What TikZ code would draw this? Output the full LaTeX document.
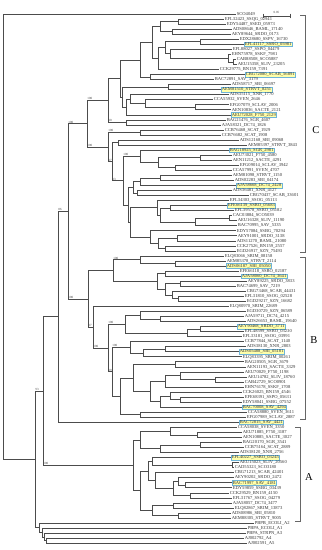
\documentclass[tikz,border=0pt]{standalone}
\usepackage{fontspec}
\setmainfont{Liberation Serif}
\usepackage{tikz}
\usetikzlibrary{calc}
\definecolor{hlfill}{RGB}{255,255,170}
\definecolor{hlline}{RGB}{110,180,215}

% inner node of the tree: name, x, first child, last child
\newcommand{\junc}[4]{%
  \path let \p1=($(#3)!.5!(#4)$) in (#2*0.5mm,\y1) coordinate (#1);
  \draw[br] (#1) |- (#3) (#1) |- (#4);}

\begin{document}
\begin{tikzpicture}[x=0.5mm, y=-0.5mm,
  leaf/.style={anchor=west, inner xsep=1pt, inner ysep=0.6pt, text height=4.6pt, text depth=0.9pt,
    font=\fontsize{6.5}{7}\selectfont, text=black!80},
  hl/.style={leaf, draw=hlline, fill=hlfill, line width=0.5pt},
  br/.style={draw=black!70, line width=0.8pt},
  bs/.style={anchor=south west, inner sep=0.4pt, font=\fontsize{4.5}{5}\selectfont, text=black!75},
  brk/.style={draw=black!60, line width=0.6pt},
  clade/.style={font=\fontsize{15}{16}\selectfont},
]
\useasboundingbox (0,0) rectangle (321,550);

\foreach \tx/\lab/\st [count=\i from 0] in {
  236/SCO4049/leaf, 224/EFL32423\_SSQG\_02941/leaf, 226/EDY54487\_SSED\_05973/leaf,
  232/ADS08646\_BAML\_17140/leaf, 231/AEY89644\_SRDO\_0173/leaf, 239/EDX28680\_SSPV\_16730/leaf,
  244/EFL41117\_SSRO\_05981/hl, 232/EFL88027\_SSPO\_04479/leaf, 231/EHN75978\_SSKF\_7981/leaf,
  236/CAB88508\_SCO5887/leaf, 237/AEU15358\_SLIV\_23205/leaf, 219/CCK29775\_BN159\_7391/leaf,
  245/CBG72080\_SCAB\_56891/hl, 214/BAC72891\_SAV\_3179/leaf, 231/ADS58717\_SBI\_06697/leaf,
  221/AEM81510\_STRVT\_8251/hl, 229/ADS35115\_XNR\_1770/leaf, 213/CCA55932\_SVEN\_2646/leaf,
  229/EFG07079\_SCLAV\_2006/leaf, 231/AEN10836\_SACTE\_2121/leaf, 231/AEU72028\_F750\_2129/hl,
  226/BAG21476\_SGR\_4607/leaf, 221/AJA58321\_DC74\_1826/leaf, 224/CCB76468\_SCAT\_1929/leaf,
  221/CCB76682\_SCAT\_1908/leaf, 239/ADS12168\_SBI\_09068/leaf, 247/AEM85397\_STRVT\_3843/leaf,
  229/BAG18925\_SGR\_2981/hl, 232/AEU73021\_F750\_4580/leaf, 232/AEN11212\_SACTE\_4291/leaf,
  239/EFG09014\_SCLAV\_3942/leaf, 232/CCA57991\_SVEN\_4707/leaf, 232/AEM81098\_STRVT\_1150/leaf,
  234/ADS02283\_SBI\_04174/leaf, 236/AJA58668\_DC74\_2428/hl, 232/ADS36481\_XNR\_4127/leaf,
  249/CBG70437\_SCAB\_33601/leaf, 229/EFL34303\_SSOG\_05113/leaf, 227/EFE66139\_SSRO\_05683/hl,
  234/EFL39578\_SSRO\_05182/leaf, 232/CAC03884\_SCO5039/leaf, 237/AEU16328\_SLIV\_11190/leaf,
  237/BAC70995\_SAV\_5335/leaf, 236/EDY57084\_SSBG\_70294/leaf, 237/AEY91001\_SRDO\_3138/leaf,
  236/ADS11270\_BAML\_21080/leaf, 236/CCK27526\_BN159\_2557/leaf, 236/EGD26917\_SZN\_75493/leaf,
  224/ELQ83066\_SRIM\_08158/leaf, 226/AEM85378\_STRVT\_2114/leaf, 226/ADS06187\_SBI\_05050/hl,
  239/EFE66118\_SSRO\_02187/leaf, 241/AJA58060\_DC74\_3641/hl, 247/AEY89225\_SRDO\_3833/leaf,
  236/BAC74699\_SAV\_7219/leaf, 246/CBG73468\_SCAB\_44431/leaf, 244/EFL31810\_SSOG\_02528/leaf,
  246/EGD29217\_SZN\_16682/leaf, 229/ELQ80970\_SRIM\_22689/leaf, 246/EGD30729\_SZN\_06589/leaf,
  244/AJA59711\_DC74\_4215/leaf, 246/ADS26653\_BAML\_19640/leaf, 237/AEY90468\_SRDO\_3711/hl,
  244/EFL48599\_SSRO\_03230/leaf, 242/EFL33181\_SSOG\_03991/leaf, 244/CCB77844\_SCAT\_1140/leaf,
  246/ADS38130\_XNR\_2803/leaf, 239/ADS05488\_SBI\_05181/hl, 242/ELQ83395\_SRIM\_00261/leaf,
  244/BAG20505\_SGR\_3679/leaf, 246/AEN11193\_SACTE\_3329/leaf, 244/AEU70029\_F750\_1198/leaf,
  247/AEU14782\_SLIV\_18760/leaf, 244/CAB42729\_SCO0901/leaf, 244/EHN76178\_SSKF\_1708/leaf,
  242/CCK26025\_BN159\_4546/leaf, 244/EFE68391\_SSPO\_05631/leaf, 242/EDY58041\_SSBG\_07552/leaf,
  242/BAC70008\_SAV\_4294/hl, 247/CCA58880\_SVEN\_3611/leaf, 246/EFG07989\_SCLAV\_2887/leaf,
  239/BAC72815\_SAV\_4421/hl, 237/CCA58038\_SVEN\_3350/leaf, 242/AEU71885\_F750\_3187/leaf,
  242/AEN10885\_SACTE\_3027/leaf, 242/BAG20170\_SGR\_3541/leaf, 244/CCB75164\_SCAT\_2889/leaf,
  239/ADS38120\_XNR\_2756/leaf, 231/EFL40227\_SSRO\_03245/hl, 239/AEU15023\_SLIV\_20560/leaf,
  234/CAD55323\_SCO3180/leaf, 234/CBG71213\_SCAB\_42401/leaf, 234/AEY90202\_SRDO\_2472/leaf,
  232/BAC71997\_SAV\_4181/hl, 232/EDY59859\_SSBG\_03439/leaf, 229/CCK29529\_BN159\_4150/leaf,
  232/EFL31767\_SSOG\_04279/leaf, 232/AJA58057\_DC74\_3477/leaf, 234/ELQ82867\_SRIM\_13873/leaf,
  231/ADS08986\_SBI\_05810/leaf, 231/AEM88305\_STRVT\_9005/leaf, 254/PBPB\_ECOLI\_A2/leaf,
  247/PBPA\_ECOLI\_A1/leaf, 246/PBPA\_STRPN\_A3/leaf, 244/AJ002792\_A4/leaf, 247/AJ002591\_A5/leaf}
  \node[\st] (l\i) at (\tx,{14+5.04*\i}) {\lab};

% clade C
\junc{p12}{178}{l1}{l2}
\junc{p34}{172}{l3}{l4}
\junc{g1}{160}{p12}{p34}
\junc{p56}{200}{l5}{l6}
\junc{p910}{233}{l9}{l10}
\junc{p8}{228}{l8}{p910}
\junc{p7}{170}{l7}{p8}
\junc{g2a}{165}{p56}{p7}
\junc{g2}{158}{g2a}{l11}
\junc{ct1a}{152}{g1}{g2}
\junc{h1213}{150}{l12}{l13}
\junc{ct1}{140}{ct1a}{h1213}
\junc{p1415}{168}{l14}{l15}
\junc{p1819}{195}{l18}{l19}
\junc{p17}{145}{l17}{p1819}
\junc{ct2a}{130}{l16}{p17}
\junc{ct2b}{126}{ct2a}{l20}
\junc{ct2}{122}{p1415}{ct2b}
\junc{ctop}{120}{ct1}{ct2}
\junc{s0}{126}{l21}{l22}
\junc{c1}{108}{ctop}{s0}
\junc{s1}{140}{l23}{l24}
\junc{u1}{118}{l25}{l26}
\junc{p2829}{200}{l28}{l29}
\junc{p3031}{175}{l30}{l31}
\junc{w1b}{158}{p2829}{p3031}
\junc{w1}{140}{l27}{w1b}
\junc{p3233}{160}{l32}{l33}
\junc{q34}{140}{p3233}{l34}
\junc{p3536}{137}{l35}{l36}
\junc{w2a}{133}{q34}{p3536}
\junc{p3839}{170}{l38}{l39}
\junc{p4041}{229}{l40}{l41}
\junc{t42}{195}{p4041}{l42}
\junc{t38}{160}{p3839}{t42}
\junc{t37}{157}{l37}{t38}
\junc{p4445}{177}{l44}{l45}
\junc{p4647}{165}{l46}{l47}
\junc{v44}{158}{p4445}{p4647}
\junc{v43}{150}{l43}{v44}
\junc{w2b}{130}{t37}{v43}
\junc{w2}{128}{w2a}{w2b}
\junc{u2}{123}{w1}{w2}
\junc{s2}{112}{u1}{u2}
\junc{c2}{108}{s1}{s2}
\junc{cn}{87}{c1}{c2}

% clade B
\junc{p4950}{175}{l49}{l50}
\junc{b11}{140}{l48}{p4950}
\junc{p5152}{165}{l51}{l52}
\junc{p5354}{180}{l53}{l54}
\junc{p5657}{178}{l56}{l57}
\junc{q55}{172}{l55}{p5657}
\junc{q53}{165}{p5354}{q55}
\junc{b12}{157}{p5152}{q53}
\junc{b1}{113}{b11}{b12}
\junc{p6061}{160}{l60}{l61}
\junc{t59}{140}{l59}{p6061}
\junc{p6263}{200}{l62}{l63}
\junc{t62}{187}{p6263}{l64}
\junc{b31}{125}{t59}{t62}
\junc{p6667}{165}{l66}{l67}
\junc{q66}{143}{p6667}{l68}
\junc{b321}{130}{l65}{q66}
\junc{p6970}{175}{l69}{l70}
\junc{p7273}{215}{l72}{l73}
\junc{q71}{180}{l71}{p7273}
\junc{q74}{165}{q71}{l74}
\junc{p7677}{180}{l76}{l77}
\junc{q75}{170}{l75}{p7677}
\junc{q78}{160}{q75}{l78}
\junc{r71}{150}{q74}{q78}
\junc{b3221}{133}{p6970}{r71}
\junc{p7980}{140}{l79}{l80}
\junc{b322}{120}{b3221}{p7980}
\junc{b32}{112}{b321}{b322}
\junc{b3}{108}{b31}{b32}
\junc{b2}{93}{l58}{b3}
\junc{bn}{88}{b1}{b2}
\junc{d86}{68}{cn}{bn}
\junc{e81}{58}{d86}{l81}

% clade A
\junc{p8384}{197}{l83}{l84}
\junc{a1a}{170}{l82}{p8384}
\junc{p8586}{200}{l85}{l86}
\junc{a1b}{160}{p8586}{l87}
\junc{a1}{140}{a1a}{a1b}
\junc{p8990}{232}{l89}{l90}
\junc{q88}{152}{l88}{p8990}
\junc{p9394}{185}{l93}{l94}
\junc{q92}{178}{l92}{p9394}
\junc{p9596}{190}{l95}{l96}
\junc{q9296}{173}{q92}{p9596}
\junc{q91}{155}{l91}{q9296}
\junc{a2a}{148}{q88}{q91}
\junc{p9798}{173}{l97}{l98}
\junc{p99}{178}{l99}{l100}
\junc{a2b}{152}{p9798}{p99}
\junc{a2}{140}{a2a}{a2b}
\junc{ca}{133}{a1}{a2}

% outgroup and root
\junc{f93}{43}{e81}{ca}
\junc{pbp4}{46}{l104}{l105}
\junc{pbp3}{44}{l103}{pbp4}
\junc{pbp2}{42}{l102}{pbp3}
\junc{pbp}{39}{l101}{pbp2}
\junc{g35}{35}{f93}{pbp}
\junc{root}{3}{l0}{g35}

% bootstrap values
\node[bs] at (d86 |- cn) {100};
\node[bs] at (cn |- c1) {100};
\node[bs] at (cn |- c2) {100};
\node[bs] at (c1 |- s0) {90};
\node[bs] at (c2 |- s1) {100};
\node[bs] at (c2 |- s2) {97};
\node[bs] at (u2 |- w1) {100};
\node[bs] at (s2 |- u2) {93};
\node[bs] at (e81 |- d86) {86};
\node[bs] at (d86 |- bn) {100};
\node[bs] at (b1 |- b11) {100};
\node[bs] at (bn |- b2) {97};
\node[bs] at (b2 |- b3) {100};
\node[bs] at (b3 |- b31) {100};
\node[bs] at (b32 |- b321) {100};
\node[bs] at (b3 |- b32) {99};
\node[bs] at (g35 |- f93) {93};
\node[bs] at (f93 |- ca) {100};

% brackets
\draw[brk] (300,15) -| (305,252) -- (300,252);
\draw[brk] (300,257) -| (305,419) -- (300,419);
\draw[brk] (295,427) -| (300,521) -- (295,521);
\node[clade] (cC) at (316,130) {C};
\node[clade] (cB) at (314,340) {B};
\node[clade] (cA) at (309,477) {A};

% scale bar
\coordinate (sbl) at (263,16);
\coordinate (sbr) at (290,16);
\draw[br, line width=0.6pt, |-|] (sbl) -- (sbr);
\node[bs, anchor=south] (sbt) at ($(sbl)!.5!(sbr)+(0,-2)$) {0.05};
\end{tikzpicture}
\end{document}
